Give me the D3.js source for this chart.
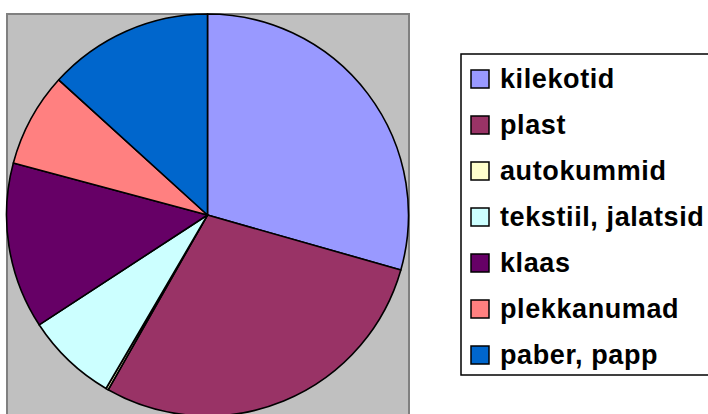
<!DOCTYPE html>
<html>
<head>
<meta charset="utf-8">
<script src="https://cdn.jsdelivr.net/npm/d3@7"></script>
<style>
  body { margin: 0; background: #fff; }
  svg { display: block; }
</style>
</head>
<body>
<div id="chart"></div>
<script>
// data (share, %)
const categories = ["kilekotid", "plast", "autokummid", "tekstiil, jalatsid", "klaas", "plekkanumad", "paber, papp"];
const values = [29.5, 28.9, 0.2, 7.4, 13.4, 7.6, 13.3];
const colors = ["#9999FF", "#993366", "#FFFFCC", "#CCFFFF", "#660066", "#FF8080", "#0066CC"];

const width = 708, height = 414;

const svg = d3.select("#chart")
	.append("svg")
	.attr("width", width)
	.attr("height", height);

// gray plot area
svg.append("rect")
	.attr("x", 7)
	.attr("y", 14)
	.attr("width", 402)
	.attr("height", 420)
	.attr("fill", "#C0C0C0")
	.attr("stroke", "#808080")
	.attr("stroke-width", 2);

const data = categories.map((c, i) => ({ name: c, value: values[i], color: colors[i] }));

const pie = d3.pie()
	.sort(null)
	.value(d => d.value);

const arc = d3.arc()
	.innerRadius(0)
	.outerRadius(201);

const g = svg.append("g")
	.attr("transform", "translate(207.5,215)");

g.selectAll("path.slice")
	.data(pie(data))
	.enter()
	.append("path")
	.attr("class", "slice")
	.attr("d", arc)
	.attr("fill", d => d.data.color)
	.attr("stroke", "#000")
	.attr("stroke-width", 1.6)
	.attr("stroke-linejoin", "round");

// legend
const legend = svg.append("g");

legend.append("rect")
	.attr("x", 461)
	.attr("y", 54)
	.attr("width", 260)
	.attr("height", 321)
	.attr("fill", "#fff")
	.attr("stroke", "#000")
	.attr("stroke-width", 1.5);

const rowY = d3.scalePoint()
	.domain(categories)
	.range([88, 364]);

const rows = legend.selectAll("g.item")
	.data(data)
	.enter()
	.append("g")
	.attr("class", "item")
	.attr("transform", d => `translate(0,${rowY(d.name)})`);

rows.append("rect")
	.attr("x", 471)
	.attr("y", -18)
	.attr("width", 18)
	.attr("height", 18)
	.attr("fill", d => d.color)
	.attr("stroke", "#000")
	.attr("stroke-width", 1.5);

rows.append("text")
	.attr("x", 500)
	.attr("y", 0)
	.style("font-family", "Arial, 'Liberation Sans', sans-serif")
	.style("font-weight", "bold")
	.style("font-size", "27px")
	.style("letter-spacing", "0.6px")
	.attr("fill", "#000")
	.text(d => d.name);
</script>
</body>
</html>
